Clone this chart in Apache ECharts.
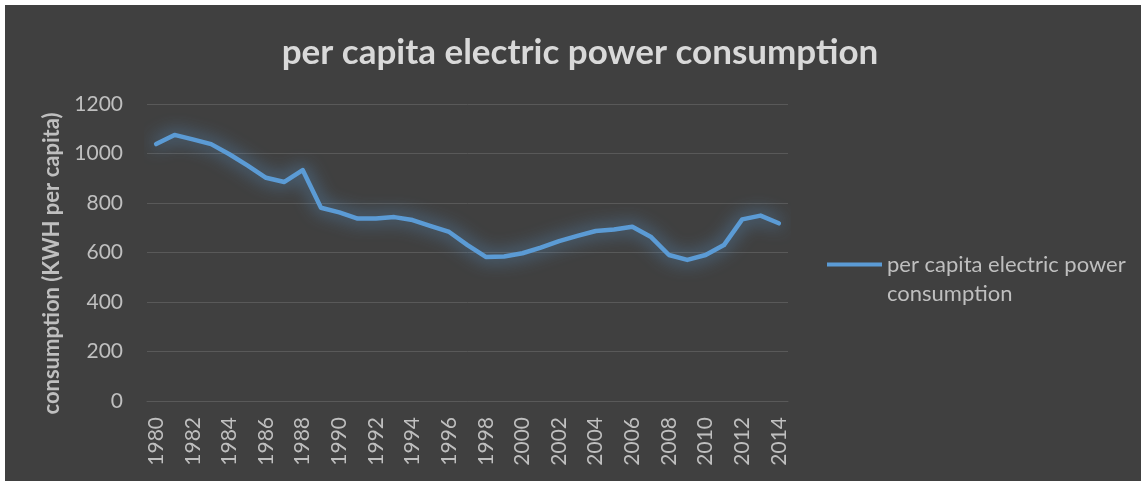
<!DOCTYPE html>
<html>
<head>
<meta charset="utf-8">
<script src="https://cdn.jsdelivr.net/npm/echarts@6/dist/echarts.min.js"></script>
<style>
  html, body { margin: 0; padding: 0; background: #ffffff; overflow: hidden; }
  #chart { position: absolute; left: 5px; top: 5px; width: 1136px; height: 476px; }
</style>
</head>
<body>
<div id="chart"></div>
<script>
// Annual per capita electric power consumption (kWh per person)
const years = [
  '1980','1981','1982','1983','1984','1985','1986','1987','1988','1989',
  '1990','1991','1992','1993','1994','1995','1996','1997','1998','1999',
  '2000','2001','2002','2003','2004','2005','2006','2007','2008','2009',
  '2010','2011','2012','2013','2014'
];
const consumption = [
  1038, 1075, 1057, 1038, 997, 951, 902, 885, 933, 781,
  762, 737, 737, 743, 731, 707, 683, 630, 582, 584,
  597, 620, 646, 667, 687, 693, 704, 664, 590, 570,
  590, 630, 734, 749, 718
];
const yTicks = { min: 0, max: 1200, interval: 200 };
const seriesName = 'per capita electric power consumption';

const chart = echarts.init(document.getElementById('chart'));
const font = 'Lato, "Open Sans", sans-serif';

chart.setOption({
  backgroundColor: '#404040',
  animation: false,
  title: {
    text: seriesName,
    left: 570,
    textAlign: 'center',
    top: 25,
    textStyle: { color: '#d9d9d9', fontFamily: font, fontWeight: 'bold', fontSize: 35 }
  },
  legend: {
    data: [seriesName],
    left: 822,
    top: 216,
    padding: 0,
    orient: 'vertical',
    icon: 'rect',
    itemWidth: 55,
    itemHeight: 4,
    itemGap: 0,
    // blank first line keeps the icon level with the first text line
    formatter: () => '\nper capita electric power\nconsumption',
    textStyle: { color: '#bfbfbf', fontFamily: font, fontSize: 22, lineHeight: 29 }
  },
  grid: { left: 142, right: 353, top: 99, bottom: 80, containLabel: false },
  xAxis: {
    type: 'category',
    data: years,
    boundaryGap: true,
    axisLine: { lineStyle: { color: '#595959', width: 1 } },
    axisTick: { show: false },
    axisLabel: {
      interval: 1,
      rotate: 90,
      margin: 16,
      color: '#bfbfbf',
      fontFamily: font,
      fontSize: 21
    }
  },
  yAxis: {
    type: 'value',
    min: yTicks.min,
    max: yTicks.max,
    interval: yTicks.interval,
    name: 'consumption (KWH per capita)',
    nameLocation: 'middle',
    nameGap: 84,
    nameTextStyle: {
      color: '#bfbfbf', fontFamily: font, fontWeight: 'bold', fontSize: 22,
      padding: [0, 22, 0, 0]
    },
    axisLine: { show: false },
    axisTick: { show: false },
    axisLabel: {
      margin: 24, color: '#bfbfbf', fontFamily: font, fontSize: 21,
      formatter: v => String(v)
    },
    splitLine: { lineStyle: { color: '#595959', width: 1 } }
  },
  series: [{
    name: seriesName,
    type: 'line',
    data: consumption,
    showSymbol: false,
    symbol: 'none',
    color: '#5b9bd5',
    lineStyle: {
      color: '#5b9bd5',
      width: 4.5,
      cap: 'round',
      join: 'round',
      shadowBlur: 18,
      shadowColor: '#5b9bd5'
    }
  }]
});
</script>
</body>
</html>
